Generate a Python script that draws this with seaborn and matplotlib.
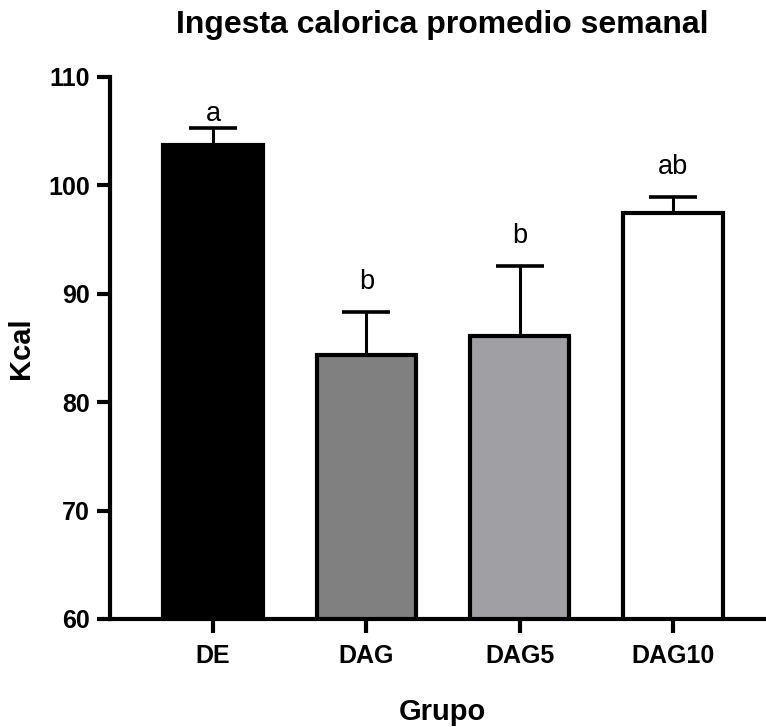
import matplotlib
matplotlib.use("Agg")
import matplotlib.pyplot as plt
import seaborn as sns
import pandas as pd
import numpy as np

# Weekly average caloric intake per group (mean and upper SEM)
groups = ["DE", "DAG", "DAG5", "DAG10"]
kcal_mean = [103.75, 84.35, 86.1, 97.45]
kcal_err = [1.5, 4.0, 6.45, 1.5]
sig_letters = ["a", "b", "b", "ab"]
letter_gap_pt = [1, 12, 12, 12]
bar_colors = ["#000000", "#808080", "#a0a0a4", "#ffffff"]

sns.set_theme(style="ticks")
plt.rcParams["font.family"] = ["Liberation Sans", "DejaVu Sans"]
plt.rcParams["text.color"] = "black"
plt.rcParams["axes.labelcolor"] = "black"
plt.rcParams["xtick.color"] = "black"
plt.rcParams["ytick.color"] = "black"

df = pd.DataFrame({"Grupo": groups, "Kcal": kcal_mean})

W, H = 766, 727
fig = plt.figure(figsize=(W / 100, H / 100), dpi=100)
ax = fig.add_axes([110 / W, 1 - 619 / H, 1 - 110 / W, (619 - 77) / H])

sns.barplot(data=df, x="Grupo", y="Kcal", hue="Grupo", palette=bar_colors,
            order=groups, hue_order=groups, legend=False, errorbar=None,
            width=0.65, edgecolor="black", linewidth=3.0, ax=ax, zorder=2)

x = np.arange(len(groups))
ax.errorbar(x, kcal_mean, yerr=[np.zeros(len(groups)), kcal_err], fmt="none",
            ecolor="black", elinewidth=2.2, capsize=17, capthick=2.6, zorder=3)

for xi, m, e, lab, gap in zip(x, kcal_mean, kcal_err, sig_letters, letter_gap_pt):
    ax.annotate(lab, (xi, m + e), xytext=(0, gap), textcoords="offset points",
                ha="center", va="bottom", fontsize=19.5, color="black")

ax.set_ylim(60, 110)
ax.set_xlim(-0.672, 3.607)
ax.set_yticks([60, 70, 80, 90, 100, 110])

for side in ["top", "right"]:
    ax.spines[side].set_visible(False)
for side in ["left", "bottom"]:
    ax.spines[side].set_linewidth(3.0)
    ax.spines[side].set_color("black")

ax.tick_params(axis="y", length=9.5, width=3, pad=5, labelsize=18, colors="black")
ax.tick_params(axis="x", length=10, width=3, pad=8, labelsize=18, colors="black")
for lbl in ax.get_xticklabels() + ax.get_yticklabels():
    lbl.set_fontweight("bold")

ax.set_xlabel("")
ax.set_ylabel("")
fig.text(35 / W, 1 - 348 / H, "Kcal", rotation=90, ha="right", va="center",
         fontsize=21, fontweight="bold", color="black")
fig.text(442 / W, 1 - 720 / H, "Grupo", ha="center", va="baseline",
         fontsize=21, fontweight="bold", color="black")
fig.text(442.5 / W, 1 - 33 / H, "Ingesta calorica promedio semanal", ha="center",
         va="baseline", fontsize=23, fontweight="bold", color="black")

fig.savefig("out.png", dpi=100, facecolor="white")
